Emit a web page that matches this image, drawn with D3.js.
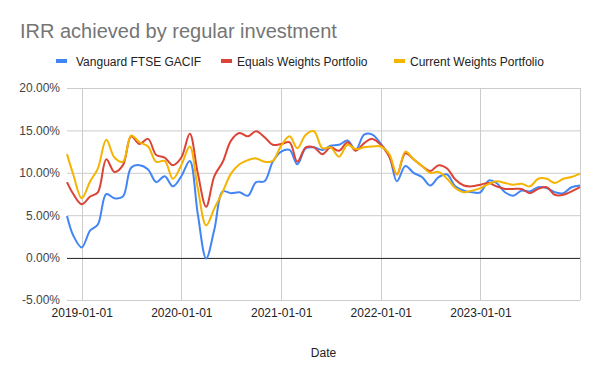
<!DOCTYPE html>
<html>
<head>
<meta charset="utf-8">
<script src="https://cdn.jsdelivr.net/npm/d3@7"></script>
<style>
  body { margin: 0; background: #fff; }
  svg { display: block; font-family: "Liberation Sans", Arial, sans-serif; }
</style>
</head>
<body>
<div id="chart"></div>
<script>
// Monthly observations (first point is the start of the series)
const dates = [
  "2018-11-08", "2018-12-01",
  "2019-01-01", "2019-02-01", "2019-03-01", "2019-04-01", "2019-05-01", "2019-06-01",
  "2019-07-01", "2019-08-01", "2019-09-01", "2019-10-01", "2019-11-01", "2019-12-01",
  "2020-01-01", "2020-02-01", "2020-03-01", "2020-04-01", "2020-05-01", "2020-06-01",
  "2020-07-01", "2020-08-01", "2020-09-01", "2020-10-01", "2020-11-01", "2020-12-01",
  "2021-01-01", "2021-02-01", "2021-03-01", "2021-04-01", "2021-05-01", "2021-06-01",
  "2021-07-01", "2021-08-01", "2021-09-01", "2021-10-01", "2021-11-01", "2021-12-01",
  "2022-01-01", "2022-02-01", "2022-03-01", "2022-04-01", "2022-05-01", "2022-06-01",
  "2022-07-01", "2022-08-01", "2022-09-01", "2022-10-01", "2022-11-01", "2022-12-01",
  "2023-01-01", "2023-02-01", "2023-03-01", "2023-04-01", "2023-05-01", "2023-06-01",
  "2023-07-01", "2023-08-01", "2023-09-01", "2023-10-01", "2023-11-01", "2023-12-01",
  "2024-01-01"
];

// IRR in percent
const vanguard = [
  4.9, 2.6,
  1.2, 3.2, 3.9, 7.5, 7.0, 7.2, 10.6, 10.9, 10.4, 8.9, 9.6, 8.4,
  9.6, 11.4, 5.2, -0.1, 3.3, 7.8, 7.6, 7.7, 7.3, 8.9, 9.0, 11.3,
  12.5, 12.7, 11.0, 12.9, 13.0, 12.7, 13.2, 13.3, 13.8, 12.7, 14.5, 14.5,
  13.4, 12.0, 9.0, 10.8, 10.0, 9.5, 8.5, 9.5, 9.8, 8.4, 7.9, 7.7,
  7.7, 9.1, 8.8, 7.7, 7.3, 7.9, 7.8, 8.3, 8.2, 7.7, 7.6, 8.3,
  8.5
];
const equalWeights = [
  8.9, 7.5,
  6.3, 7.2, 7.7, 11.6, 10.1, 10.9, 14.3, 13.4, 14.0, 12.1, 11.8, 10.9,
  11.8, 14.6, 10.0, 6.0, 9.6, 11.3, 13.8, 14.7, 14.3, 14.9, 14.2, 13.3,
  13.4, 13.6, 11.3, 13.0, 13.0, 12.2, 13.0, 12.6, 13.6, 12.6, 13.5, 14.0,
  13.3, 11.9, 9.8, 12.3, 11.6, 10.8, 10.2, 10.9, 10.5, 9.2, 8.5, 8.4,
  8.6, 8.8, 8.4, 8.1, 8.1, 8.1, 7.6, 8.1, 8.3, 7.4, 7.4, 7.8,
  8.3
];
const currentWeights = [
  12.2, 9.8,
  7.0, 9.0, 10.5, 13.9, 11.8, 11.3, 14.4, 13.6, 13.1, 11.3, 11.4, 9.3,
  10.9, 13.1, 8.2, 3.8, 5.8, 7.8, 9.9, 11.0, 11.5, 11.7, 11.3, 11.4,
  13.2, 14.3, 12.9, 14.5, 14.9, 12.9, 13.0, 11.9, 13.3, 12.8, 13.0, 13.1,
  13.1, 12.2, 9.8, 12.5, 11.6, 10.8, 10.0, 10.1, 9.3, 8.2, 7.7, 7.9,
  8.2, 8.7, 9.0, 8.8, 8.6, 8.7, 8.4, 9.3, 9.3, 8.8, 9.3, 9.5,
  9.9
];

const seriesNames = ["Vanguard FTSE GACIF", "Equals Weights Portfolio", "Current Weights Portfolio"];
const seriesColors = ["#4285F4", "#DB4437", "#F4B400"];
const yTicks = [-5, 0, 5, 10, 15, 20];
const xTickDates = ["2019-01-01", "2020-01-01", "2021-01-01", "2022-01-01", "2023-01-01"];
const xGridDates = ["2019-01-01", "2020-01-01", "2021-01-01", "2022-01-01", "2023-01-01", "2024-01-01"];

const width = 600, height = 371;
const margin = { top: 88, right: 20, bottom: 71, left: 67 };
const parse = d3.timeParse("%Y-%m-%d");
const font = '"Liberation Sans", Arial, sans-serif';

const svg = d3.select("#chart").append("svg")
  .attr("width", width)
  .attr("height", height);

const x = d3.scaleTime()
  .domain([parse(dates[0]), parse(dates[dates.length - 1])])
  .range([margin.left, width - margin.right]);

const y = d3.scaleLinear()
  .domain([-5, 20])
  .range([height - margin.bottom, margin.top]);

// Title
svg.append("text")
  .attr("x", 20)
  .attr("y", 38)
  .attr("fill", "#757575")
  .attr("font-size", 20)
  .text("IRR achieved by regular investment");

// Legend
const swatchX = [56, 221, 394];
const labelX = [76, 237, 410];
const legend = svg.append("g");
seriesNames.forEach((name, i) => {
  legend.append("rect")
    .attr("x", swatchX[i])
    .attr("y", 59)
    .attr("width", 11)
    .attr("height", 4)
    .attr("fill", seriesColors[i]);
  legend.append("text")
    .attr("x", labelX[i])
    .attr("y", 66)
    .attr("fill", "#222")
    .attr("font-size", 12)
    .text(name);
});

// Horizontal gridlines + y labels
svg.append("g")
  .call(d3.axisLeft(y)
    .tickValues(yTicks)
    .tickSize(-(width - margin.left - margin.right))
    .tickPadding(7)
    .tickFormat(d => d.toFixed(2) + "%"))
  .attr("transform", `translate(${margin.left},0)`)
  .call(g => g.select(".domain").remove())
  .call(g => g.selectAll(".tick line").attr("stroke", "#cccccc"))
  .call(g => g.selectAll(".tick text")
    .attr("fill", "#444")
    .attr("font-size", 12)
    .attr("font-family", font));

// Vertical gridlines
svg.append("g")
  .selectAll("line")
  .data(xGridDates.map(parse))
  .join("line")
  .attr("x1", d => Math.round(x(d)) + 0.5)
  .attr("x2", d => Math.round(x(d)) + 0.5)
  .attr("y1", margin.top)
  .attr("y2", height - margin.bottom)
  .attr("stroke", "#cccccc");

// X labels
svg.append("g")
  .attr("transform", `translate(0,${height - margin.bottom})`)
  .call(d3.axisBottom(x)
    .tickValues(xTickDates.map(parse))
    .tickSize(0)
    .tickPadding(8)
    .tickFormat(d3.timeFormat("%Y-%m-%d")))
  .call(g => g.select(".domain").remove())
  .call(g => g.selectAll(".tick text")
    .attr("fill", "#222")
    .attr("font-size", 12)
    .attr("font-family", font));

// Zero baseline
svg.append("line")
  .attr("x1", margin.left)
  .attr("x2", width - margin.right)
  .attr("y1", Math.round(y(0)) + 0.5)
  .attr("y2", Math.round(y(0)) + 0.5)
  .attr("stroke", "#333");

// Axis title
svg.append("text")
  .attr("x", (margin.left + width - margin.right) / 2)
  .attr("y", 357)
  .attr("text-anchor", "middle")
  .attr("fill", "#222")
  .attr("font-size", 12)
  .text("Date");

// Lines
const line = d3.line()
  .x(d => x(d.date))
  .y(d => y(d.value))
  .curve(d3.curveCatmullRom.alpha(0.5));

[vanguard, equalWeights, currentWeights].forEach((values, i) => {
  const data = dates.map((d, j) => ({ date: parse(d), value: values[j] }));
  svg.append("path")
    .datum(data)
    .attr("fill", "none")
    .attr("stroke", seriesColors[i])
    .attr("stroke-width", 2)
    .attr("stroke-linejoin", "round")
    .attr("d", line);
});
</script>
</body>
</html>
